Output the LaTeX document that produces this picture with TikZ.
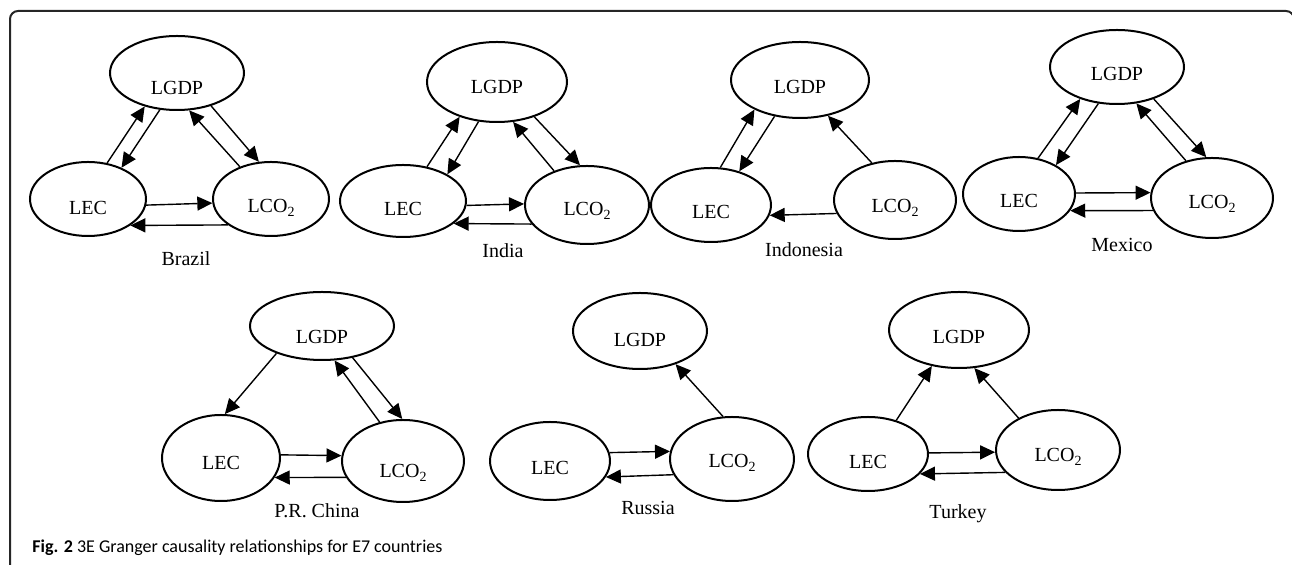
\documentclass[tikz,border=0pt]{standalone}
\usepackage{fontspec}
\setmainfont{Liberation Serif}
\newfontfamily\capfont{Carlito}
\usetikzlibrary{arrows.meta,shapes.geometric}
\newcommand{\lowtwo}{\raisebox{-0.4ex}{\fontsize{7}{8}\selectfont 2}}
\tikzset{
  ellnode/.style={draw, ellipse, line width=1pt, inner sep=0pt},
  lbl/.style={font=\fontsize{10}{12}\selectfont, text depth=0pt, inner sep=0pt},
  cname/.style={font=\fontsize{10}{12}\selectfont, anchor=base, inner sep=0pt},
  arr/.style={-{Triangle[length=7.5pt,width=7pt]}, line width=0.7pt},
  frame/.style={line width=1pt, draw=black!85, rounded corners=4pt},
}
\newcommand{\enode}[7]{\node[ellnode, minimum width=#4pt, minimum height=#5pt,
  label={[lbl,yshift=-#7pt*0.5]center:#6}] (#1) at (#2,#3) {};}
\begin{document}
\begin{tikzpicture}[x=0.5pt,y=-0.5pt]
\useasboundingbox (0,0) rectangle (1292,565);
\begin{scope}
  \clip (0,0) rectangle (1292,565);
  \draw[frame] (10,11) rectangle (1294,620);
\end{scope}

% Brazil
\enode{brG}{177}{73}{67}{37}{LGDP}{15}
\enode{brE}{88}{199}{58}{37}{LEC}{9}
\enode{brC}{271}{199}{58}{37}{LCO\lowtwo}{7}
\draw[arr] (brE.62) -- (brG.226);
\draw[arr] (brG.245) -- (brE.43);
\draw[arr] (brC.134) -- (brG.288);
\draw[arr] (brG.316) -- (brC.108);
\draw[arr] (brE.354) -- (brC.184);
\draw[arr] (brC.211) -- (brE.328);
\node[cname] (brN) at (186,266) {Brazil};

% India
\enode{inG}{497}{82}{70}{40}{LGDP}{5}
\enode{inE}{403}{201}{63}{36}{LEC}{8}
\enode{inC}{587}{205}{62}{39}{LCO\lowtwo}{4}
\draw[arr] (inE.55) -- (inG.223);
\draw[arr] (inG.245) -- (inE.31);
\draw[arr] (inC.134) -- (inG.292);
\draw[arr] (inG.317) -- (inC.100);
\draw[arr] (inE.356) -- (inC.179);
\draw[arr] (inC.199) -- (inE.336);
\node[cname] (inN) at (503,258) {India};

% Indonesia
\enode{idG}{800}{80}{69}{38}{LGDP}{7}
\enode{idE}{711}{205}{60}{37}{LEC}{7}
\enode{idC}{895}{200}{61}{39}{LCO\lowtwo}{6}
\draw[arr] (idE.76) -- (idG.213);
\draw[arr] (idG.235) -- (idE.50);
\draw[arr] (idC.122) -- (idG.308);
\draw[arr] (idC.193) -- (idE.350);
\node[cname] (idN) at (804,257) {Indonesia};

% Mexico
\enode{mxG}{1117}{67}{67}{37}{LGDP}{7}
\enode{mxE}{1019}{194}{56}{37}{LEC}{7}
\enode{mxC}{1212}{198}{61}{40}{LCO\lowtwo}{4}
\draw[arr] (mxE.62) -- (mxG.221);
\draw[arr] (mxG.243) -- (mxE.38);
\draw[arr] (mxC.125) -- (mxG.298);
\draw[arr] (mxG.319) -- (mxC.98);
\draw[arr] (mxE.1) -- (mxC.175);
\draw[arr] (mxC.192) -- (mxE.342);
\node[cname] (mxN) at (1122,252) {Mexico};

% P.R. China
\enode{cnG}{322}{326}{72}{34}{LGDP}{11}
\enode{cnE}{221}{458}{59}{43}{LEC}{5}
\enode{cnC}{403}{461}{61}{41}{LCO\lowtwo}{10}
\draw[arr] (cnG.211) -- (cnE.85);
\draw[arr] (cnC.121) -- (cnG.290);
\draw[arr] (cnG.314) -- (cnC.91);
\draw[arr] (cnE.3) -- (cnC.175);
\draw[arr] (cnC.196) -- (cnE.340);
\node[cname] (cnN) at (317,518) {P.R. China};

% Russia
\enode{ruG}{640}{331}{67}{38}{LGDP}{9}
\enode{ruE}{550}{461}{60}{39}{LEC}{7}
\enode{ruC}{732}{459}{62}{42}{LCO\lowtwo}{2}
\draw[arr] (ruC.102) -- (ruG.317);
\draw[arr] (ruE.8) -- (ruC.173);
\draw[arr] (ruC.195) -- (ruE.344);
\node[cname] (ruN) at (648,515) {Russia};

% Turkey
\enode{tkG}{959}{330}{70}{38}{LGDP}{7}
\enode{tkE}{868}{454}{60}{37}{LEC}{8}
\enode{tkC}{1058}{450}{62}{40}{LCO\lowtwo}{5}
\draw[arr] (tkE.50) -- (tkG.233);
\draw[arr] (tkC.141) -- (tkG.292);
\draw[arr] (tkE.1) -- (tkC.182);
\draw[arr] (tkC.203) -- (tkE.339);
\node[cname] (tkN) at (958,519) {Turkey};

% caption
\node[anchor=base west, inner sep=0pt, font=\capfont\fontsize{9}{11}\selectfont] (cap) at (32,553)
  {\textbf{Fig. 2} 3E Granger causality relationships for E7 countries};
\end{tikzpicture}
\end{document}
